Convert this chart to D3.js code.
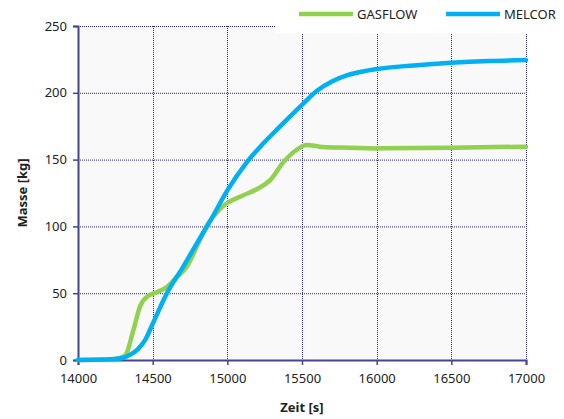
<!DOCTYPE html>
<html>
<head>
<meta charset="utf-8">
<script src="https://cdn.jsdelivr.net/npm/d3@7"></script>
<style>
  body { margin: 0; background: #fff; }
  text { font-family: "Noto Sans", "DejaVu Sans", sans-serif; fill: #222; }
</style>
</head>
<body>
<svg id="chart" width="564" height="419"></svg>
<script>
var seriesNames = ["GASFLOW", "MELCOR"];
var seriesColors = ["#92d050", "#00b0f0"];

var gasflowTime = [14000, 14200, 14280, 14320, 14370, 14415, 14470, 14500, 14600, 14660, 14730, 14800, 14860, 14950, 15000, 15100, 15200, 15290, 15375, 15460, 15530, 15620, 15750, 16000, 16500, 17000];
var gasflowMass = [0, 0.3, 1.5, 4, 22, 40, 48, 49.5, 55, 62, 70, 86, 100, 113, 117.5, 123, 128, 135, 148, 157, 161, 159.7, 159, 158.4, 158.9, 159.7];

var melcorTime = [14000, 14200, 14300, 14350, 14400, 14450, 14500, 14600, 14700, 14800, 14900, 15000, 15130, 15240, 15350, 15500, 15600, 15700, 15800, 15900, 16000, 16250, 16500, 16750, 17000];
var melcorMass = [0, 0.3, 1.5, 4, 8, 15, 27, 51, 69, 88, 107, 127, 148, 162, 174.5, 191, 201.5, 208.5, 213, 215.8, 217.8, 220.5, 222.5, 223.8, 224.5];

var xTicks = [14000, 14500, 15000, 15500, 16000, 16500, 17000];
var yTicks = [0, 50, 100, 150, 200, 250];

var axisColor = "#45458f";
var gridColor = "#23238a";

var margin = { top: 26, right: 38, bottom: 59, left: 78 };
var width = 564 - margin.left - margin.right;
var height = 419 - margin.top - margin.bottom;

var svg = d3.select("#chart");
var g = svg.append("g").attr("transform", "translate(" + margin.left + "," + margin.top + ")");

var x = d3.scaleLinear().domain([14000, 17000]).range([0, width]);
var y = d3.scaleLinear().domain([0, 250]).range([height, 0]);

g.append("rect").attr("width", width).attr("height", height).attr("fill", "#f9f9f9");

// grid
g.selectAll("line.hgrid").data(yTicks.slice(1)).enter().append("line")
  .attr("class", "hgrid")
  .attr("x1", 0).attr("x2", width)
  .attr("y1", function(d) { return y(d) + 0.5; })
  .attr("y2", function(d) { return y(d) + 0.5; })
  .attr("stroke", gridColor).attr("stroke-width", 1).attr("stroke-dasharray", "1,1");
g.selectAll("line.vgrid").data(xTicks.slice(1)).enter().append("line")
  .attr("class", "vgrid")
  .attr("y1", 0).attr("y2", height)
  .attr("x1", function(d) { return Math.round(x(d)) + 0.5; })
  .attr("x2", function(d) { return Math.round(x(d)) + 0.5; })
  .attr("stroke", gridColor).attr("stroke-width", 1).attr("stroke-dasharray", "1,1");

// legend background covers the top right of the plot
svg.append("rect").attr("x", 275).attr("y", 0).attr("width", 289).attr("height", 33).attr("fill", "#fff");

// axes
var xAxis = d3.axisBottom(x).tickValues(xTicks).tickFormat(d3.format("d")).tickSizeOuter(0).tickSize(5).tickPadding(9);
var yAxis = d3.axisLeft(y).tickValues(yTicks).tickSizeOuter(0).tickSize(5).tickPadding(6);

var gx = g.append("g").attr("transform", "translate(0," + height + ")").call(xAxis);
var gy = g.append("g").call(yAxis);
[gx, gy].forEach(function(ax) {
  ax.select(".domain").attr("stroke", axisColor).attr("stroke-width", 2);
  ax.selectAll(".tick line").attr("stroke", axisColor).attr("stroke-width", 1.5);
  ax.selectAll(".tick text").attr("font-size", "13px").attr("fill", "#222")
    .attr("font-family", "'Noto Sans', sans-serif");
});

// lines
var line = d3.line()
  .x(function(d) { return x(d[0]); })
  .y(function(d) { return y(d[1]); })
  .curve(d3.curveMonotoneX);

var series = [d3.zip(gasflowTime, gasflowMass), d3.zip(melcorTime, melcorMass)];
g.selectAll("path.series").data(series).enter().append("path")
  .attr("class", "series")
  .attr("d", line)
  .attr("fill", "none")
  .attr("stroke", function(d, i) { return seriesColors[i]; })
  .attr("stroke-width", 4.5)
  .attr("stroke-linejoin", "round")
  .attr("stroke-linecap", "round");

// axis titles
svg.append("text").attr("x", 302).attr("y", 412).attr("text-anchor", "middle")
  .attr("font-size", "13px").attr("font-weight", "bold").text("Zeit [s]");
svg.append("text").attr("transform", "translate(27,193) rotate(-90)").attr("text-anchor", "middle")
  .attr("font-size", "13px").attr("font-weight", "bold").text("Masse [kg]");

// legend
var legendX = [299, 446];
var legend = svg.selectAll("g.legend").data(seriesNames).enter().append("g")
  .attr("class", "legend")
  .attr("transform", function(d, i) { return "translate(" + legendX[i] + ",14)"; });
legend.append("line").attr("x1", 0).attr("x2", 54).attr("y1", 0).attr("y2", 0)
  .attr("stroke", function(d, i) { return seriesColors[i]; }).attr("stroke-width", 4.5);
legend.append("text").attr("x", 58).attr("y", 5).attr("font-size", "13px").text(function(d) { return d; });
</script>
</body>
</html>
